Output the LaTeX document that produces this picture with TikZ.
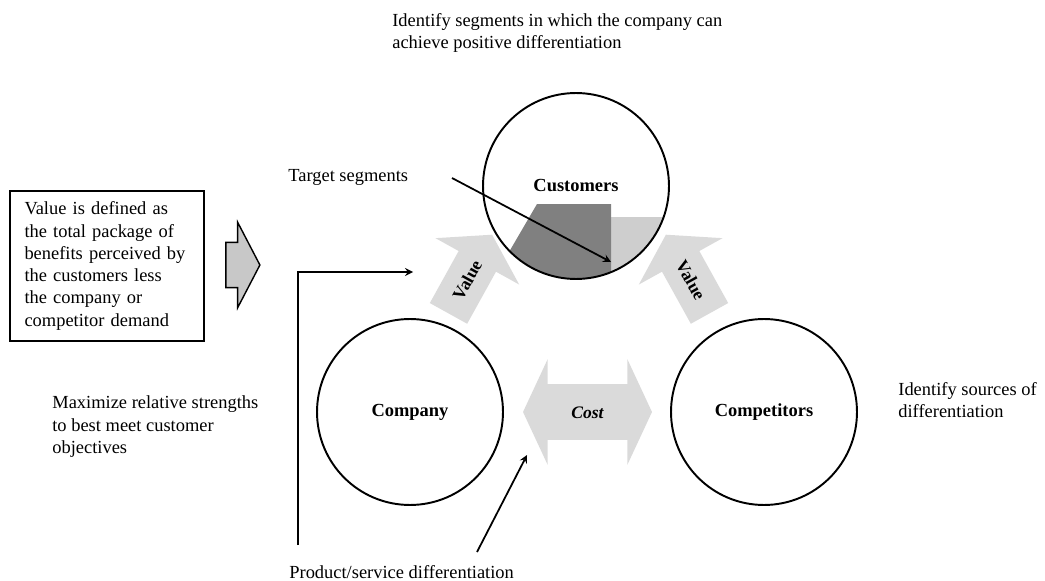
\documentclass[tikz,border=0pt]{standalone}
\usepackage{fontspec}
\setmainfont{Liberation Serif}
\usetikzlibrary{shapes.arrows,positioning,calc,backgrounds}
\definecolor{arrowgray}{RGB}{218,218,218}
\definecolor{segdark}{RGB}{128,128,128}
\definecolor{seglight}{RGB}{206,206,206}
\definecolor{boxarrow}{RGB}{200,200,200}

\begin{document}
\begin{tikzpicture}[
    x=0.02cm, y=-0.02cm,
    party/.style={
        circle,
        draw,
        line width=1.1pt,
        minimum size=3.72cm,
        inner sep=0pt,
        font=\fontsize{10.5}{12}\selectfont\bfseries
    },
    note/.style={
        align=left,
        inner sep=0pt,
        anchor=west,
        font=\fontsize{10.5}{12.8}\selectfont
    },
    value/.style={
        single arrow,
        fill=arrowgray,
        minimum height=1.8cm,
        minimum width=1.9cm,
        single arrow head extend=0.53cm,
        single arrow tip angle=115,
        text height=7pt,
        text depth=0pt,
        inner xsep=2pt,
        inner ysep=8.45pt,
        font=\fontsize{10}{12}\selectfont\bfseries
    },
    pointer/.style={->,>=stealth,line width=1pt}
]
    \useasboundingbox (0,0) rectangle (1045,581);

    % The three parties
    \node[party] (cust) at (576,186) {Customers};
    \node[party] (comp) at (410,412) {Company};
    \node[party] (rival) at (764,412) {Competitors};

    % Target segments inside the customer circle
    \begin{scope}[on background layer]
        \clip (cust.center) circle[radius=93];
        \fill[seglight] (611,217) rectangle (700,300);
        \fill[segdark] (537,204) -- (611,204) -- (611,300) -- (481,300) -- cycle;
    \end{scope}

    % Value arrows towards the customers
    \node[value, rotate=61] (valcomp) at (467,280) {Value};
    \node[value, rotate=-61, shape border rotate=180] (valrival) at (691,280) {Value};

    % Cost arrow between company and competitors
    \node[double arrow, fill=arrowgray, minimum height=2.58cm, minimum width=2.1cm,
          double arrow head extend=0.5cm, double arrow tip angle=130,
          text height=7pt, text depth=0pt, inner xsep=2pt, inner ysep=12.15pt,
          font=\fontsize{10}{12}\selectfont\bfseries\itshape] (cost) at (587.5,412) {Cost};

    % Definition box and its arrow
    \node[draw, line width=1.2pt, minimum width=3.88cm, minimum height=3cm,
          text width=3.3cm, inner xsep=0.29cm, align=left,
          font=\fontsize{10.5}{12.7}\selectfont] (defbox) at (107,266) {
        Value is defined as\\
        the total package of\\
        benefits perceived by\\
        the customers less\\
        the company or\\
        competitor demand
    };
    \node[single arrow, draw, line width=0.8pt, fill=boxarrow, minimum height=0.68cm,
          minimum width=1.68cm, single arrow head extend=0.4cm, single arrow tip angle=125,
          inner xsep=0pt, inner ysep=12.5pt] (defarrow) at (237,265) {};

    % Notes
    \node[note] (segnote) at (392,33) {Identify segments in which the company can\\achieve positive differentiation};
    \node[note] (tgtnote) at (288,177) {Target segments};
    \node[note] (strnote) at (52,427) {Maximize relative strengths\\to best meet customer\\objectives};
    \node[note] (srcnote) at (898,400) {Identify sources of\\differentiation};
    \node[note] (prodnote) at (289,572) {Product/service differentiation};

    % Pointers
    \coordinate (tgtfrom) at (452,178);
    \coordinate (tgtto) at (611,262);
    \coordinate (elbowfrom) at (298,545);
    \coordinate (elbowto) at (413,272);
    \coordinate (prodfrom) at (477,552);
    \coordinate (prodto) at (527,455);
    \draw[pointer] (tgtfrom) -- (tgtto);
    \draw[pointer] (elbowfrom) |- (elbowto);
    \draw[pointer] (prodfrom) -- (prodto);
\end{tikzpicture}
\end{document}
